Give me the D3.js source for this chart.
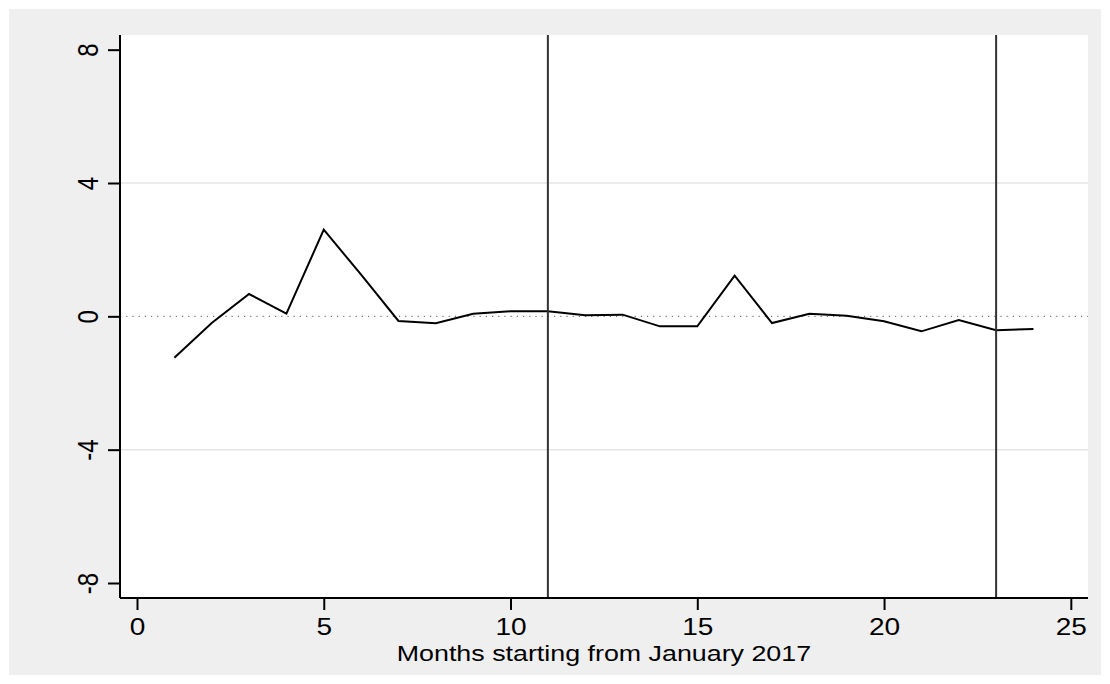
<!DOCTYPE html>
<html><head><meta charset="utf-8">
<script src="https://cdn.jsdelivr.net/npm/d3@7"></script>
<style>html,body{margin:0;padding:0;background:#fff;}svg{display:block;}</style>
</head><body>
<svg id="chart" width="1110" height="684"></svg>
<script>
const months = [1,2,3,4,5,6,7,8,9,10,11,12,13,14,15,16,17,18,19,20,21,22,23,24];
const values = [-1.24,-0.2,0.67,0.08,2.6,1.25,-0.14,-0.21,0.08,0.15,0.15,0.03,0.05,-0.3,-0.3,1.22,-0.2,0.08,0.02,-0.15,-0.45,-0.11,-0.42,-0.38];
const xTicks = [0,5,10,15,20,25];
const yTicks = [-8,-4,0,4,8];
const gridValues = [-4,4];
const refLines = [11,23];
const xTitle = "Months starting from January 2017";

const font = "'Liberation Sans',Arial,sans-serif";
const sx = 1.22;
const svg = d3.select("#chart");
svg.append("rect").attr("x",9).attr("y",9).attr("width",1092).attr("height",666).attr("fill","#efefef");
const L=120,R=1088,T=35,B=598;
svg.append("rect").attr("x",L).attr("y",T).attr("width",R-L).attr("height",B-T).attr("fill","#fff");

const x = d3.scaleLinear().domain([-0.455,25.46]).range([L,R]);
const y = d3.scaleLinear().domain([-8.45,8.44]).range([B,T]);

const g = svg.append("g");
g.selectAll("line.grid").data(gridValues).join("line").attr("class","grid")
 .attr("x1",L).attr("x2",R).attr("y1",d=>y(d)).attr("y2",d=>y(d))
 .attr("stroke","#e4e4e4").attr("stroke-width",1.5);
g.append("line").attr("x1",L).attr("x2",R).attr("y1",y(0)).attr("y2",y(0))
 .attr("stroke","#555").attr("stroke-width",1).attr("stroke-dasharray","1.2,5");

const line = d3.line().x((d,i)=>x(months[i])).y(d=>y(d));
g.append("path").datum(values).attr("d",line).attr("fill","none").attr("stroke","#000").attr("stroke-width",2);

g.selectAll("line.ref").data(refLines).join("line").attr("class","ref")
 .attr("x1",d=>x(d)).attr("x2",d=>x(d)).attr("y1",T).attr("y2",B)
 .attr("stroke","#333").attr("stroke-width",2);

// axes
const xAxis = svg.append("g").attr("transform",`translate(0,${B})`)
 .call(d3.axisBottom(x).tickValues(xTicks).tickSize(12).tickFormat(d=>String(d)));
xAxis.select(".domain").remove();
xAxis.append("line").attr("x1",L).attr("x2",R).attr("y1",0).attr("y2",0).attr("stroke","#000").attr("stroke-width",2);
xAxis.selectAll(".tick line").attr("stroke","#000").attr("stroke-width",2);
xAxis.selectAll(".tick text").attr("fill","#000").style("font-family",font).style("font-size","23px")
 .attr("y",37).attr("dy",null).attr("transform",`scale(${sx},1)`);

const yAxis = svg.append("g").attr("transform",`translate(${L},0)`)
 .call(d3.axisLeft(y).tickValues(yTicks).tickSize(12).tickFormat(d=>String(d)));
yAxis.select(".domain").remove();
yAxis.append("line").attr("x1",0).attr("x2",0).attr("y1",T).attr("y2",B).attr("stroke","#000").attr("stroke-width",2);
yAxis.selectAll(".tick line").attr("stroke","#000").attr("stroke-width",2);
yAxis.selectAll(".tick text").attr("fill","#000").style("font-family",font).style("font-size","24px")
 .attr("x",0).attr("y",0).attr("text-anchor","middle")
 .attr("transform",`translate(-33,0) scale(${sx},1) rotate(-90)`).attr("dy","0.36em");

svg.append("text").attr("transform",`translate(${(x(0)+x(25))/2},661) scale(${sx},1)`).attr("text-anchor","middle")
 .style("font-family",font).style("font-size","22px").attr("fill","#000").text(xTitle);
</script>
</body></html>
